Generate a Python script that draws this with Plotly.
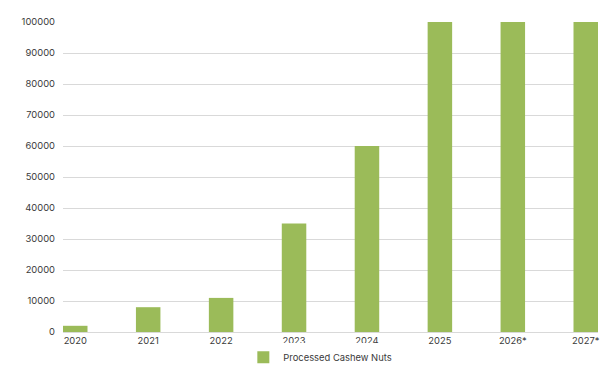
import plotly.graph_objects as go

years = ["2020", "2021", "2022", "2023", "2024", "2025", "2026*", "2027*"]
processed = [2000, 8000, 11000, 35000, 60000, 100000, 100000, 100000]
y_ticks = [0, 10000, 20000, 30000, 40000, 50000, 60000, 70000, 80000, 90000, 100000]

fig = go.Figure()
fig.add_trace(go.Bar(
    x=years, y=processed, name="Processed Cashew Nuts",
    marker=dict(color="#9BBB59", line=dict(width=0)),
    width=0.336,
))

fig.update_layout(
    width=615, height=378,
    margin=dict(l=63, r=17, t=22, b=46, autoexpand=False),
    paper_bgcolor="white", plot_bgcolor="white",
    font=dict(family="Inter", size=9.4, color="#3A3A3A"),
    showlegend=True,
    legend=dict(orientation="h", x=0.481, xanchor="center", y=-0.035, yanchor="top",
                itemwidth=30, font=dict(size=9.4, color="#3A3A3A")),
    bargap=0.664,
)
fig.update_xaxes(type="category", range=[-0.168, 7.168], showgrid=False, automargin=False,
                 showline=False, ticks="", tickfont=dict(size=9.4), ticklabelstandoff=2)
fig.update_yaxes(range=[0, 100000], tickvals=y_ticks, showgrid=True, gridcolor="#D9D9D9",
                 gridwidth=1, zeroline=True, zerolinecolor="#D9D9D9", zerolinewidth=1,
                 automargin=False, showline=False, ticks="", tickformat="d", ticklabelstandoff=7)

fig.write_html("out.html", config={"displayModeBar": False},
               post_script="document.body.style.margin='0';")
